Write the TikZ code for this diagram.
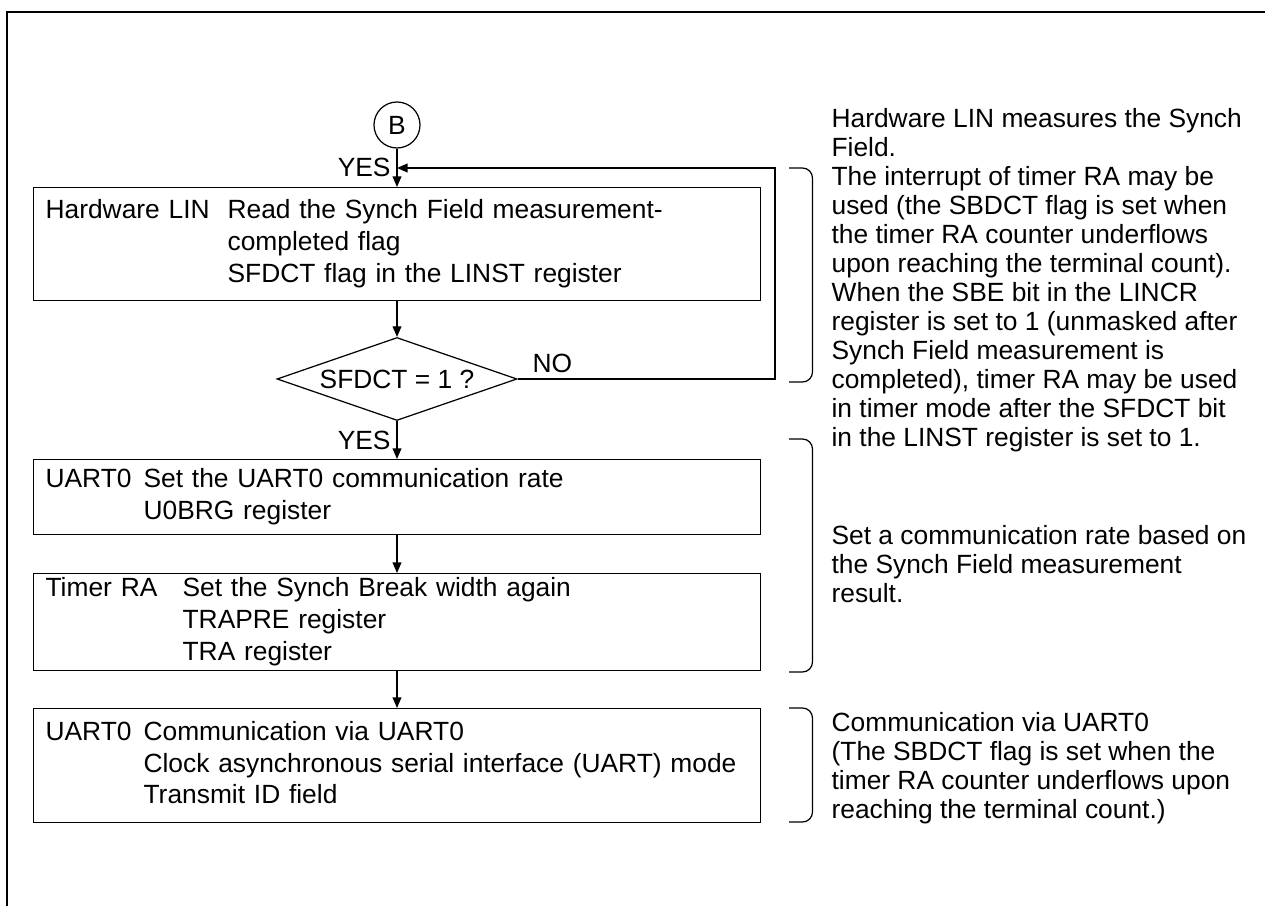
\documentclass[tikz,border=0pt]{standalone}
\usepackage{fontspec}
\setmainfont{Liberation Sans}
\usetikzlibrary{
  arrows.meta,
  positioning,
  shapes.geometric
}
\newcommand{\boxfont}{\fontsize{15pt}{18.2pt}\selectfont}
\newcommand{\notefont}{\fontsize{15pt}{16.5pt}\selectfont}
\tikzset{
  >={Triangle[length=6pt,width=5pt]},
  line join=round,
  every picture/.style={line width=0.7pt},
  box/.style={draw, rectangle, inner xsep=0.24cm, inner ysep=0pt, text width=14.06cm, align=left, font=\boxfont},
  decision/.style={draw, diamond, aspect=2.9, minimum width=4.8cm, minimum height=1.66cm, inner sep=0pt, font=\boxfont},
  connector/.style={draw, circle, minimum size=0.92cm, inner sep=0pt, font=\boxfont},
  arrow/.style={->},
  brace/.style={rounded corners=0.2cm},
  note/.style={anchor=north west, inner sep=0pt, align=left, font=\notefont},
  frame/.style={line width=1.4pt}
}

\begin{document}
\begin{tikzpicture}[scale=1]
	\useasboundingbox (0, 0) rectangle (25.3, 18.12);
	% Draw the frame (top and left edges only)
	\draw[frame] (0.14, 0) -- (0.14, 17.88) -- (25.3, 17.88);

	% flow chart
	\node[connector] (start) at (7.94, 15.62) {B};
	\node[box, minimum height=2.26cm, anchor=north west] (lin) at (0.66, 14.38)
		{\begin{tabular}{@{}p{3.64cm}@{}l@{}}
		Hardware LIN & Read the Synch Field measurement-\\
		 & completed flag\\
		 & SFDCT flag in the LINST register
		\end{tabular}};
	\node[decision] (sfdct) at (7.94, 10.54) {SFDCT = 1 ?};
	\node[box, minimum height=1.5cm, anchor=north west] (rate) at (0.66, 8.94)
		{\begin{tabular}{@{}p{1.96cm}@{}l@{}}
		UART0 & Set the UART0 communication rate\\
		 & U0BRG register
		\end{tabular}};
	\node[box, minimum height=1.94cm, anchor=north west] (brk) at (0.66, 6.66)
		{\begin{tabular}{@{}p{2.74cm}@{}l@{}}
		Timer RA & Set the Synch Break width again\\
		 & TRAPRE register\\
		 & TRA register
		\end{tabular}};
	\node[box, minimum height=2.28cm, anchor=north west] (comm) at (0.66, 3.96)
		{\begin{tabular}{@{}p{1.96cm}@{}l@{}}
		UART0 & Communication via UART0\\
		 & Clock asynchronous serial interface (UART) mode\\
		 & Transmit ID field
		\end{tabular}};

	% connectors
	\coordinate (loop) at (15.5, 14.76);
	\draw[arrow] (start) -- node[left, font=\boxfont] {YES} (start |- lin.north);
	\draw[arrow] (start |- lin.south) -- (sfdct);
	\draw[arrow] (sfdct) -- node[left, font=\boxfont] {YES} (sfdct |- rate.north);
	\draw[arrow] (sfdct |- rate.south) -- (sfdct |- brk.north);
	\draw[arrow] (sfdct |- brk.south) -- (sfdct |- comm.north);
	\draw[arrow] (sfdct.east) -- node[pos=0.135, above, font=\boxfont] {NO} (sfdct.east -| loop) -- (loop) -- (start |- loop);

	% brackets
	\draw[brace] (15.78, 14.76) -- (16.25, 14.76) -- (16.25, 10.48) -- (15.78, 10.48);
	\draw[brace] (15.78, 9.34) -- (16.25, 9.34) -- (16.25, 4.68) -- (15.78, 4.68);
	\draw[brace] (15.78, 3.96) -- (16.25, 3.96) -- (16.25, 1.68) -- (15.78, 1.68);

	% Add notes
	\node[note] (note1) at (16.62, 15.96) {Hardware LIN measures the Synch\\
		Field.\\
		The interrupt of timer RA may be\\
		used (the SBDCT flag is set when\\
		the timer RA counter underflows\\
		upon reaching the terminal count).\\
		When the SBE bit in the LINCR\\
		register is set to 1 (unmasked after\\
		Synch Field measurement is\\
		completed), timer RA may be used\\
		in timer mode after the SFDCT bit\\
		in the LINST register is set to 1.};
	\node[note] (note2) at (16.62, 7.62) {Set a communication rate based on\\
		the Synch Field measurement\\
		result.};
	\node[note] (note3) at (16.62, 3.88) {Communication via UART0\\
		(The SBDCT flag is set when the\\
		timer RA counter underflows upon\\
		reaching the terminal count.)};
\end{tikzpicture}
\end{document}
